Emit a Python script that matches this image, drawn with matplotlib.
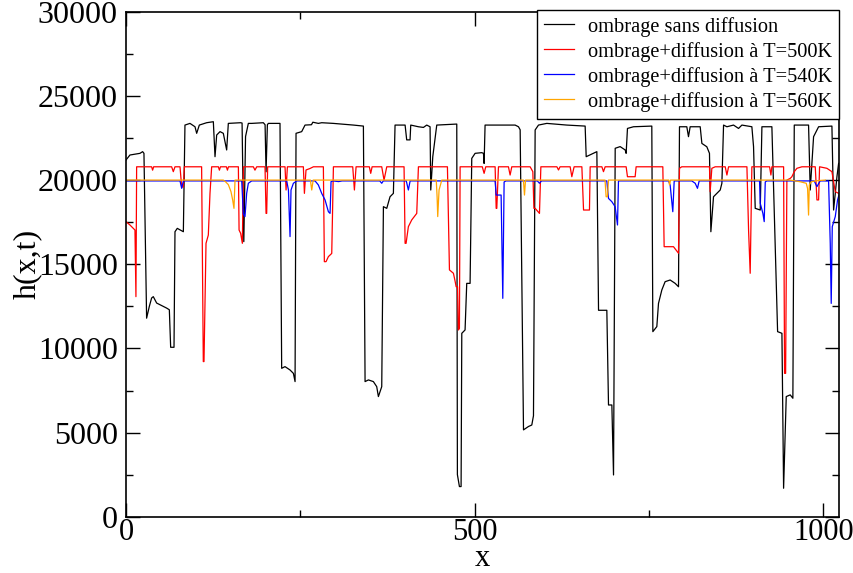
import matplotlib
matplotlib.use("Agg")
import matplotlib.pyplot as plt
from matplotlib.ticker import MultipleLocator

# ----- Donnees (x, h) -----
x_sans = [0, 5.7, 20.1, 23.9, 25.8, 29.6, 33.5, 36.8, 39.2, 44, 48.8, 53.6, 58.3, 62.2, 64.1, 68.9,
          70.3, 73.6, 82.3, 84.6, 91.8, 99, 101.4, 105.2, 115.7, 125.3, 127.7, 130.1, 134.9, 139.6,
          144.4, 146.8, 164.5, 166.5, 169, 171.5, 175.5, 180.3, 197, 199.5, 200.9, 202.8, 204.2,
          220.9, 223.3, 228.1, 235.3, 240.1, 242.5, 243.9, 252, 256.8, 266, 268, 275.9, 280.7,
          297.4, 326.2, 340.5, 342.9, 347.7, 354.8, 359.6, 362, 366.8, 369.2, 374, 378.7, 383.5,
          385.9, 400.3, 402.6, 407.4, 408.4, 419.4, 426.6, 431.3, 436.1, 437.1, 440, 445.7, 474.4,
          475.3, 478.2, 480.6, 481.6, 486.3, 488.7, 493.5, 495.9, 500.7, 510.2, 512.7, 513.6, 515,
          558.1, 562.9, 565.3, 570.1, 577.2, 582, 584.4, 586.8, 591.6, 603.5, 632.2, 658.5, 660,
          675.3, 677.7, 689.6, 692, 696.8, 699.2, 701.6, 708.7, 715.9, 717.3, 719.2, 727.8, 754.1,
          755.6, 761.3, 763.7, 768.5, 773.2, 780.4, 787.6, 792.4, 793.8, 804.3, 806.7, 809.1, 823.5,
          825.9, 833, 836.8, 838.8, 842.6, 847.4, 852.2, 854.6, 857, 861.8, 871.3, 878.5, 883.3,
          897.6, 900, 902.4, 909.6, 912, 926.3, 934.5, 940.7, 943.1, 946.9, 952.6, 956.4, 958.4,
          978.9, 981.3, 986.1, 993.3, 1012.4, 1014.8, 1019.6, 1022]
h_sans = [21200, 21500, 21600, 21700, 21600, 11800, 12500, 13000, 13080, 12700, 12600, 12500, 12400,
          12300, 10070, 10070, 16940, 17140, 16940, 23280, 23380, 23180, 22790, 23280, 23420, 23480,
          21400, 22690, 22890, 22790, 21800, 23380, 23420, 23400, 16350, 22600, 23380, 23380, 23420,
          23300, 20500, 23300, 23380, 23380, 8820, 8920, 8720, 8520, 8030, 22790, 22890, 23280,
          23300, 23450, 23380, 23420, 23380, 23280, 23220, 8030, 8130, 8030, 7730, 7140, 7730,
          18430, 18330, 19020, 19220, 23280, 23280, 22400, 22400, 23280, 23180, 23140, 23280, 23180,
          19420, 21400, 23280, 23340, 2500, 1790, 1790, 10900, 11100, 13870, 13870, 21300, 21600,
          21640, 21600, 21000, 23280, 23280, 23180, 23000, 5160, 5360, 5450, 6000, 22990, 23280,
          23380, 23280, 23220, 21400, 21700, 12270, 12270, 6640, 6640, 2480, 21900, 22000, 21800,
          21600, 23080, 23180, 23220, 11000, 11300, 12680, 13480, 13970, 14070, 13870, 13670, 23180,
          23180, 22590, 23180, 23180, 22190, 21990, 21600, 16940, 19020, 19220, 19420, 19820, 23280,
          23180, 23280, 23080, 23280, 23180, 22000, 18330, 18230, 23180, 23180, 11000, 10900, 1690,
          7140, 7240, 7040, 23280, 23280, 19420, 22590, 23180, 23220, 18230, 20210, 21000]

x_500 = [0, 5.7, 10.5, 12.9, 14.3, 15.3, 36.8, 38.2, 39.7, 65.5, 67.9, 70.3, 77.5, 79.9, 82.3, 83.7,
         108.5, 110.9, 111.9, 114.8, 118.1, 120.5, 122.9, 132.5, 134, 135.5, 144, 145.5, 147, 161.2,
         162.2, 164.5, 166.9, 168.5, 182.7, 185, 187.5, 199.4, 200.9, 201.8, 203.2, 228.1, 229.6,
         231.5, 254.4, 255.9, 258.2, 264, 268.8, 283.1, 284.5, 286.9, 290.3, 295.1, 297.5, 325.2,
         327.6, 330, 349, 351, 353, 366.8, 370.1, 374, 398.8, 400.3, 401.7, 405, 409.8, 417, 419.4,
         461, 463.9, 469.6, 472, 473.5, 475.5, 476.8, 478.2, 479.2, 511, 513.6, 516, 529.4, 530.9,
         531.8, 534.2, 548.5, 550.9, 553.3, 579.6, 583.5, 585, 586.8, 593, 595, 618, 620.3, 622.5,
         637, 639.4, 642.7, 653.8, 656.2, 664.7, 665.7, 682.5, 684.8, 687.2, 717.3, 719.2, 730.2,
         731.6, 769.9, 771.8, 785.2, 792.4, 793.8, 797, 836.8, 837.8, 840.2, 845, 859.4, 861.8,
         864.2, 890.5, 892.9, 895.2, 897.6, 923, 924.9, 926.3, 943.1, 944.5, 946, 947.8, 952.6, 955,
         958.4, 962.2, 969.4, 988.5, 990.9, 993.3, 994.7, 1005.2, 1012.4, 1017.2, 1023]
h_500 = [17540, 17340, 17140, 17040, 13080, 20800, 20800, 20600, 20800, 20800, 20510, 20800, 20800,
         19600, 19600, 20800, 20800, 9220, 9220, 16250, 16740, 19220, 20800, 20800, 20600, 20800,
         20800, 20600, 20800, 20800, 17040, 16840, 16250, 20800, 20800, 20600, 20800, 20800, 18030,
         18030, 20800, 20800, 19420, 20800, 20800, 19220, 20610, 20700, 20800, 20800, 15160, 15160,
         15460, 15650, 20800, 20800, 19420, 20800, 20800, 20410, 20800, 20800, 20010, 20800, 20800,
         16250, 16250, 17240, 17640, 18030, 20800, 20800, 14670, 14470, 14000, 13670, 13670, 11100,
         11200, 20800, 20800, 20410, 20800, 20800, 18330, 18330, 20800, 20800, 20310, 20800, 20800,
         20510, 18330, 18330, 18030, 20800, 20800, 20610, 20800, 20800, 20210, 20800, 20800, 18230,
         18230, 20800, 20800, 20510, 20800, 20800, 20210, 20210, 20800, 20800, 16050, 16050, 15660,
         20710, 20800, 20800, 19320, 20710, 20800, 20800, 20310, 20800, 20800, 17000, 14470, 20800,
         20800, 20310, 20800, 20800, 8520, 8520, 20010, 20110, 20210, 20510, 20710, 20800, 20800,
         18830, 18830, 20800, 20710, 20510, 19320, 19200]

x_540 = [0, 77.5, 79.9, 82.3, 166, 168.3, 170.7, 173.1, 175.5, 180.3, 230.5, 233, 235.3, 236.7,
         240.1, 244.9, 271.2, 275.9, 280.7, 285.5, 290.3, 292.7, 294.1, 297, 305, 310, 364, 366.8,
         369, 402, 405, 407.5, 529.4, 530.9, 538, 540.4, 542.3, 545, 590, 593, 596, 689.6, 692,
         696.7, 701.5, 704.9, 706.3, 778, 780.4, 784.2, 786.2, 811.5, 816.3, 819.6, 822, 908.6,
         909.6, 913.4, 915.3, 916.8, 919, 987, 990.9, 995.5, 1007.6, 1010, 1011.4, 1012.9, 1017.2,
         1020.5, 1023]
h_540 = [19960, 19960, 19520, 19960, 19960, 18000, 17840, 19220, 19820, 19960, 19960, 19420, 16650,
         19420, 19820, 19960, 19960, 19720, 19220, 18830, 18130, 18030, 19920, 19960, 19920, 19960,
         19960, 19820, 19960, 19960, 19420, 19960, 19960, 19120, 19120, 12980, 19900, 19960, 19960,
         19820, 19960, 19960, 18920, 18730, 18430, 17340, 19960, 19960, 19720, 18130, 19960, 19960,
         19820, 19520, 19960, 19960, 18630, 18030, 17540, 19900, 19960, 19960, 19620, 19960, 19960,
         16250, 12680, 17240, 17840, 18830, 19200]

x_560 = [0, 139.6, 143, 146.8, 150.6, 153, 154.9, 156.4, 264.5, 266.4, 268.5, 445, 446.2, 447.1, 449,
         452.9, 570, 571.5, 573, 687, 688.6, 690.5, 692, 778.5, 779.5, 781, 952.6, 967, 975.6, 977.5,
         978.9, 980, 982.7, 990, 1003]
h_560 = [20010, 20010, 19900, 19740, 19320, 18830, 18330, 20010, 20010, 19420, 20010, 20010, 19000,
         17840, 19420, 20010, 20010, 19120, 20010, 20010, 19020, 19020, 20010, 20010, 19720, 20010,
         20010, 19910, 19820, 19500, 17930, 19720, 19910, 19970, 20010]

labels = ["ombrage sans diffusion",
          "ombrage+diffusion à T=500K",
          "ombrage+diffusion à T=540K",
          "ombrage+diffusion à T=560K"]
couleurs = ["black", "#ff0000", "#0000ff", "#ffa500"]

# ----- Figure -----
plt.rcParams["font.family"] = ["Liberation Serif", "DejaVu Serif"]

fig = plt.figure(figsize=(8.54, 5.73), dpi=100)
ax = fig.add_axes([0.1475, 0.0983, 0.8353, 0.8807])

series = [(x_sans, h_sans), (x_500, h_500), (x_540, h_540), (x_560, h_560)]
for (xs, hs), lab, col in zip(series, labels, couleurs):
    ax.plot(xs, hs, color=col, lw=0.9, label=lab)

ax.set_xlim(0, 1023)
ax.set_ylim(0, 30000)
ax.xaxis.set_major_locator(MultipleLocator(500))
ax.xaxis.set_minor_locator(MultipleLocator(250))
ax.yaxis.set_major_locator(MultipleLocator(5000))
ax.yaxis.set_minor_locator(MultipleLocator(2500))

ax.tick_params(which="both", direction="in", top=True, right=True, width=1.0, labelsize=23)
ax.tick_params(which="major", length=10)
ax.tick_params(which="minor", length=5)
ax.tick_params(axis="x", pad=1, labelsize=22)
ax.tick_params(axis="y", pad=6)
for sp in ax.spines.values():
    sp.set_linewidth(1.2)

ax.set_xlabel("x", fontsize=22, labelpad=-2)
ax.set_ylabel("h(x,t)", fontsize=23, labelpad=-3)

leg = ax.legend(loc="upper right", bbox_to_anchor=(1.0, 1.005), borderaxespad=0,
                fancybox=False, edgecolor="black", framealpha=1, fontsize=14.7,
                handlelength=1.45, handletextpad=0.7, labelspacing=0.25, borderpad=0.35)
leg.get_frame().set_linewidth(1.0)

fig.savefig("out.png", dpi=100)
